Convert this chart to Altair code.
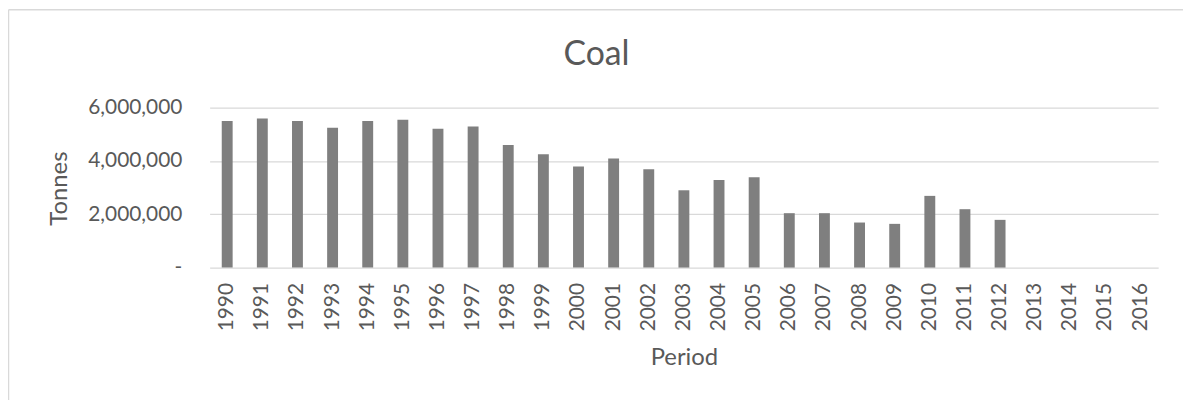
import altair as alt
import pandas as pd

years = [str(y) for y in range(1990, 2017)]
tonnes = [5500000, 5590000, 5500000, 5250000, 5500000, 5550000, 5210000, 5290000,
          4600000, 4250000, 3790000, 4090000, 3690000, 2900000, 3290000, 3390000,
          2040000, 2040000, 1690000, 1640000, 2690000, 2190000, 1790000,
          None, None, None, None]
y_ticks = [0, 2000000, 4000000, 6000000]

df = pd.DataFrame({"Period": years, "Tonnes": tonnes})

FONT = "Lato"
TXT = "#595959"
GRID = "#d9d9d9"

bars = alt.Chart(df).mark_bar(color="#7f7f7f").encode(
    x=alt.X("Period:N", sort=years,
            scale=alt.Scale(domain=years, paddingInner=0.69, paddingOuter=0.345),
            axis=alt.Axis(title="Period", labelAngle=-90, labelPadding=15, ticks=False,
                          domain=False, grid=False, labelFontSize=21, labelColor=TXT,
                          labelFont=FONT, titleFont=FONT, titleFontSize=24, titleColor=TXT,
                          titleFontWeight="normal", titleBaseline="alphabetic",
                          titleY=98)),
    y=alt.Y("Tonnes:Q",
            scale=alt.Scale(domain=[0, 6000000], nice=False),
            axis=alt.Axis(title="Tonnes", values=y_ticks, ticks=False, domain=False,
                          labelPadding=28, labelFontSize=21, labelColor=TXT, labelFont=FONT,
                          labelExpr="datum.value == 0 ? '-\u00a0\u00a0\u00a0' : format(datum.value, ',')",
                          gridColor=GRID, gridWidth=1.3,
                          titleFont=FONT, titleFontSize=24, titleColor=TXT,
                          titleFontWeight="normal", titleBaseline="alphabetic",
                          titleX=-144, titleY=81)),
)

frame_data = alt.Data(values=[{"k": 1}])
top_line = alt.Chart(frame_data).mark_rule(color=GRID, strokeWidth=1.5).encode(
    x=alt.value(-202.5), x2=alt.value(985), y=alt.value(-98.5))
left_line = alt.Chart(frame_data).mark_rule(color=GRID, strokeWidth=1.5).encode(
    x=alt.value(-202.5), y=alt.value(-98.5), y2=alt.value(300))

chart = alt.layer(bars, top_line, left_line).properties(
    width=955, height=161,
    background="white",
    title=alt.TitleParams("Coal", font=FONT, fontSize=34, fontWeight="normal",
                          color=TXT, anchor="middle", dx=-88, baseline="alphabetic",
                          offset=0, dy=90),
    autosize=alt.AutoSizeParams(type="none"),
    padding={"left": 203, "top": 99, "right": 25, "bottom": 132},
).configure_view(stroke="transparent", strokeWidth=0)

chart.save("out.html", embed_options={"renderer": "svg", "actions": False})
